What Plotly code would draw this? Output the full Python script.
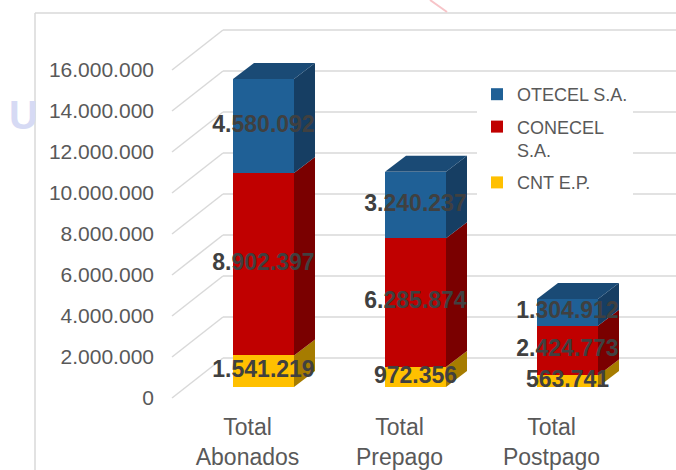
import plotly.graph_objects as go

# ---------------- data ----------------
categories = ["Total<br>Abonados", "Total<br>Prepago", "Total<br>Postpago"]
series_names = ["CNT E.P.", "CONECEL<br>S.A.", "OTECEL S.A."]
cnt = [1541219, 972356, 563741]
conecel = [8902397, 6285874, 2424773]
otecel = [4580092, 3240237, 1304912]
y_ticks = [0, 2000000, 4000000, 6000000, 8000000, 10000000, 12000000, 14000000, 16000000]

# ---------------- styling / geometry ----------------
W, H = 676, 470
FONT = "Liberation Sans, Arial, sans-serif"
PX_PER_UNIT = 20.5 / 1e6
Y0_FRONT, Y0_BAR = 398, 387          # pixel row of value 0 (axis front / bar front face)
CAT_PITCH, BAR_CX0, LABEL_CX0 = 152.0, 263.5, 247.5
BAR_W = 61 / CAT_PITCH
DEPTH_DX = 21 / CAT_PITCH
DEPTH_DY = 16 / PX_PER_UNIT
WALL_X0, WALL_X1 = 172 / W, 223 / W
WALL_DY = 40 / PX_PER_UNIT

front_cols = ["#FFC000", "#C00000", "#1F6096"]
side_cols = ["#A67C00", "#7A0000", "#163E63"]
legend_ranks = [3, 2, 1]
top_col = "#1A4A75"
grid_col = "#D9D9D9"


def yrange(y0px):
    return [-(H - y0px) / PX_PER_UNIT, y0px / PX_PER_UNIT]


def xrange(cx0):
    return [-cx0 / CAT_PITCH, (W - cx0) / CAT_PITCH]


def fmt(v):
    return f"{v:,}".replace(",", ".")


series_vals = [cnt, conecel, otecel]

fig = go.Figure()

# stacked bars (front faces)
for name, vals, col, rank in zip(series_names, series_vals, front_cols, legend_ranks):
    fig.add_trace(go.Bar(
        x=categories, y=vals, name=name, width=BAR_W,
        marker=dict(color=col, line=dict(width=0)),
        hoverinfo="skip", legendgroup=name, legendrank=rank,
    ))

# value labels (on top of everything)
lab_x, lab_y, lab_t = [], [], []
for i, cat in enumerate(categories):
    base = 0
    for vals in series_vals:
        v = vals[i]
        lab_x.append(cat)
        lab_y.append(base + v / 2)
        lab_t.append(fmt(v))
        base += v
fig.add_trace(go.Scatter(
    x=lab_x, y=lab_y, text=lab_t, mode="text", textposition="middle center",
    textfont=dict(family=FONT, size=23, color="#404040", weight="bold"),
    showlegend=False, hoverinfo="skip",
))

# invisible trace carrying the category / value axes
fig.add_trace(go.Scatter(
    x=categories, y=[0] * len(categories), mode="markers",
    marker=dict(opacity=0), xaxis="x2", yaxis="y2",
    showlegend=False, hoverinfo="skip",
))

shapes = []
# back-wall grid lines (diagonal + horizontal)
for v in y_ticks:
    shapes.append(dict(type="line", xref="paper", yref="y2", x0=WALL_X0, x1=WALL_X1,
                       y0=v, y1=v + WALL_DY, line=dict(color=grid_col, width=1.5), layer="below"))
    shapes.append(dict(type="line", xref="paper", yref="y2", x0=WALL_X1, x1=1,
                       y0=v + WALL_DY, y1=v + WALL_DY, line=dict(color=grid_col, width=1.5), layer="below"))

# 3D side and top faces
for i in range(len(categories)):
    base = 0
    xl, xr = i - BAR_W / 2, i + BAR_W / 2
    for k, vals in enumerate(series_vals):
        y0, y1 = base, base + vals[i]
        path = (f"M{xr},{y0} L{xr + DEPTH_DX},{y0 + DEPTH_DY} "
                f"L{xr + DEPTH_DX},{y1 + DEPTH_DY} L{xr},{y1} Z")
        shapes.append(dict(type="path", xref="x", yref="y", path=path,
                           fillcolor=side_cols[k], line=dict(width=0), layer="below"))
        base = y1
    path = (f"M{xl},{base} L{xl + DEPTH_DX},{base + DEPTH_DY} "
            f"L{xr + DEPTH_DX},{base + DEPTH_DY} L{xr},{base} Z")
    shapes.append(dict(type="path", xref="x", yref="y", path=path,
                       fillcolor=top_col, line=dict(width=0), layer="below"))

# chart border
shapes.append(dict(type="line", xref="paper", yref="paper", x0=35 / W, x1=35 / W,
                   y0=0, y1=1 - 13 / H, line=dict(color=grid_col, width=1.5)))
shapes.append(dict(type="line", xref="paper", yref="paper", x0=35 / W, x1=1,
                   y0=1 - 13 / H, y1=1 - 13 / H, line=dict(color=grid_col, width=1.5)))
# faint decorative stroke at the top
shapes.append(dict(type="line", xref="paper", yref="paper", x0=430 / W, x1=447 / W,
                   y0=1, y1=1 - 12 / H, line=dict(color="#F7C4C8", width=2)))

fig.update_layout(
    width=W, height=H, margin=dict(l=0, r=0, t=0, b=0),
    paper_bgcolor="white", plot_bgcolor="rgba(0,0,0,0)",
    barmode="stack", hovermode=False,
    font=dict(family=FONT, color="#595959"),
    shapes=shapes,
    xaxis=dict(type="category", categoryorder="array", categoryarray=categories,
               range=xrange(BAR_CX0), domain=[0, 1], showticklabels=False,
               showgrid=False, zeroline=False, showline=False, fixedrange=True),
    yaxis=dict(range=yrange(Y0_BAR), domain=[0, 1], showticklabels=False,
               showgrid=False, zeroline=False, showline=False, fixedrange=True),
    xaxis2=dict(type="category", categoryorder="array", categoryarray=categories,
                overlaying="x", anchor="free", position=(H - 411) / H,
                range=xrange(LABEL_CX0), showgrid=False, zeroline=False, showline=False,
                ticks="", tickfont=dict(family=FONT, size=23, color="#595959"), fixedrange=True),
    yaxis2=dict(overlaying="y", anchor="free", position=154 / W, side="left",
                range=yrange(Y0_FRONT), tickmode="array", tickvals=y_ticks,
                ticktext=[fmt(v) for v in y_ticks], showgrid=False, zeroline=False,
                showline=False, ticks="",
                tickfont=dict(family=FONT, size=21, color="#595959"), fixedrange=True),
    legend=dict(x=477 / W, y=1 - 76 / H, xanchor="left", yanchor="top",
                bgcolor="white", traceorder="grouped", tracegroupgap=6,
                valign="top", font=dict(family=FONT, size=18, color="#595959")),
    annotations=[dict(text="<b>U</b>", xref="paper", yref="paper", x=23 / W, y=1 - 115 / H,
                      xanchor="center", yanchor="middle", showarrow=False,
                      font=dict(family=FONT, size=40, color="#D6DAF4"))],
)

fig.write_html("out.html")
